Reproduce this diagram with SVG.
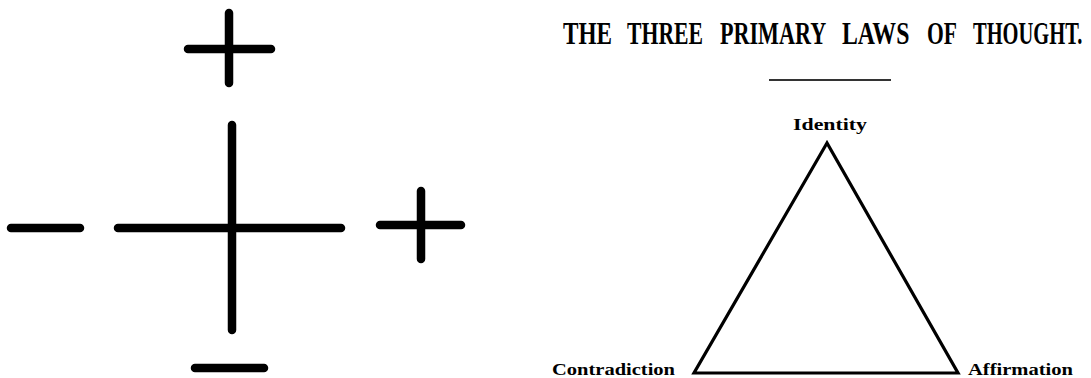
<svg xmlns="http://www.w3.org/2000/svg" width="1091" height="378" viewBox="0 0 1091 378">
<style>
.bar{stroke:#000;stroke-width:8.5;stroke-linecap:round;fill:none}
.tri{stroke:#000;stroke-width:3.2;fill:none;stroke-linejoin:miter}
.lbl{font-family:"Liberation Serif","DejaVu Serif",serif;font-weight:bold;fill:#000}
.ttl{font-size:32px}
</style>
<rect width="1091" height="378" fill="#fff"/>
<g id="plus-top">
<line class="bar" x1="188" y1="49" x2="271" y2="49"/>
<line class="bar" x1="229" y1="13" x2="229" y2="83"/>
</g>
<g id="cross-center">
<line class="bar" x1="232" y1="125" x2="232" y2="330"/>
<line class="bar" x1="118" y1="228" x2="341" y2="228"/>
</g>
<g id="minus-left">
<line class="bar" x1="11" y1="228" x2="80" y2="228"/>
</g>
<g id="plus-right">
<line class="bar" x1="380" y1="225" x2="461" y2="225"/>
<line class="bar" x1="421" y1="191" x2="421" y2="259"/>
</g>
<g id="minus-bottom">
<line class="bar" x1="195" y1="368" x2="264" y2="368"/>
</g>
<g id="title">
<text class="lbl ttl" transform="translate(563,44) scale(0.725,1)">THE</text>
<text class="lbl ttl" transform="translate(627,44) scale(0.679,1)">THREE</text>
<text class="lbl ttl" transform="translate(720,44) scale(0.692,1)">PRIMARY</text>
<text class="lbl ttl" transform="translate(842,44) scale(0.743,1)">LAWS</text>
<text class="lbl ttl" transform="translate(927,44) scale(0.675,1)">OF</text>
<text class="lbl ttl" transform="translate(973,44) scale(0.64,1)">THOUGHT.</text>
<line x1="769" y1="80" x2="891" y2="80" stroke="#333" stroke-width="2"/>
</g>
<g id="connectors">
<polygon class="tri" points="827,143 694,373 958,373"/>
</g>
<g id="node-identity">
<text class="lbl" x="793" y="130" font-size="17" textLength="74" lengthAdjust="spacingAndGlyphs">Identity</text>
</g>
<g id="node-contradiction">
<text class="lbl" x="552" y="375" font-size="17" textLength="123" lengthAdjust="spacingAndGlyphs">Contradiction</text>
</g>
<g id="node-affirmation">
<text class="lbl" x="968" y="375" font-size="17" textLength="105" lengthAdjust="spacingAndGlyphs">Affirmation</text>
</g>
</svg>
